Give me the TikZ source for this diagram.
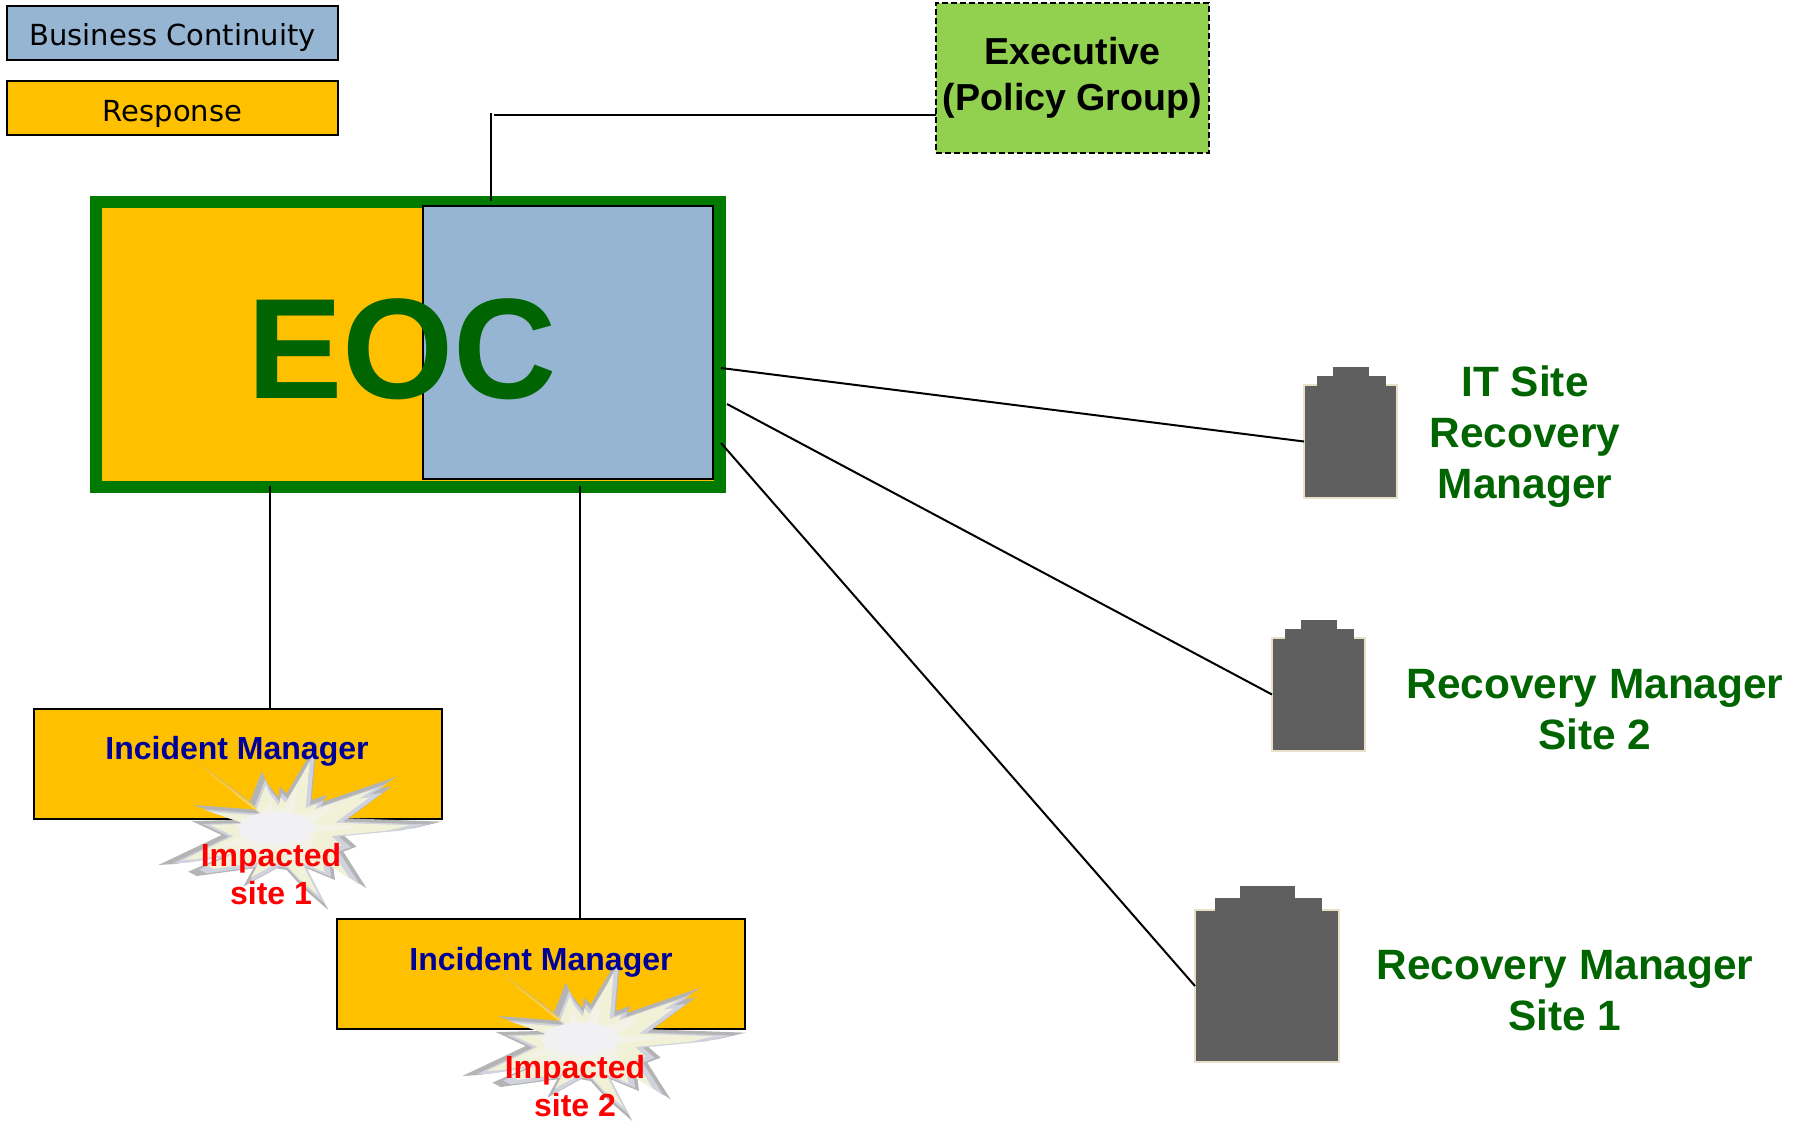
\documentclass[tikz,border=0pt]{standalone}
\usepackage{fontspec}
\setmainfont{Liberation Sans}
\newfontfamily\legendfont{DejaVu Sans}
\definecolor{resp}{HTML}{FFC000}
\definecolor{bc}{HTML}{95B5D2}
\definecolor{execgreen}{HTML}{92D050}
\definecolor{eocborder}{HTML}{007A00}
\definecolor{darkgr}{HTML}{006400}
\definecolor{navyt}{HTML}{000099}
\definecolor{bldg}{HTML}{5F5F5F}
\definecolor{bldgline}{HTML}{EADFC8}
\newcommand{\blastpath}{(190,55) -- (360,185) -- (395,95) -- (412,130) -- (445,172) -- (450,140) -- (470,160) -- (530,60) -- (560,5) -- (545,180) -- (590,165) -- (580,185) -- (800,110) -- (745,145) -- (785,140) -- (655,235) -- (935,245) -- (850,265) -- (640,285) -- (680,320) -- (640,335) -- (710,445) -- (610,380) -- (615,420) -- (530,385) -- (595,510) -- (520,445) -- (470,390) -- (440,385) -- (340,440) -- (370,385) -- (200,408) -- (175,395) -- (280,350) -- (135,372) -- (85,375) -- (275,285) -- (185,243) -- (320,240) -- (190,195) -- (390,210) -- cycle}
\newcommand{\blastlayer}[4]{\begin{scope}[shift={(440+#3,270+#4)},scale=#1,shift={(-440,-270)}]\fill[#2] \blastpath;\end{scope}}
\newcommand{\blastfig}{%
  \fill[blastgray] \blastpath;
  \blastlayer{0.9}{blastblue}{6}{6}
  \blastlayer{0.8}{blastcream}{3}{6}
  \blastlayer{0.5}{blastwhite}{0}{0}
  \fill[blastcore] (440,265) ellipse (115 and 50);
}
\definecolor{blastgray}{HTML}{B4B4B4}
\definecolor{blastblue}{HTML}{D0D3DE}
\definecolor{blastcream}{HTML}{F1F1D8}
\definecolor{blastwhite}{HTML}{F2F2E6}
\definecolor{blastcore}{HTML}{F1F1F4}
\tikzset{
  boxbase/.style={draw=black,line width=2pt,inner sep=0pt,outer sep=0pt,anchor=center,align=center},
  legendbox/.style={boxbase,minimum width=331pt,minimum height=54pt,font=\legendfont\fontsize{29}{32}\selectfont},
  incidentbox/.style={boxbase,fill=resp,minimum width=408pt,minimum height=110pt},
  incidenttext/.style={inner sep=0pt,text=navyt,font=\bfseries\fontsize{32}{38}\selectfont},
  hittext/.style={inner sep=0pt,align=center,text=red,font=\bfseries\fontsize{32}{38}\selectfont},
  sitetext/.style={inner sep=0pt,align=center,text=darkgr,font=\bfseries\fontsize{42.4}{51}\selectfont},
  link/.style={draw=black,line width=2pt},
  bldgbody/.style={draw=bldgline,line width=2pt,fill=bldg,inner sep=0pt,outer sep=0pt,anchor=center},
  bldgtop/.style={fill=bldg}
}
\begin{document}
\begin{tikzpicture}[x=1pt,y=-1pt]
\useasboundingbox (0,0) rectangle (1803,1122);
% legend
\node[legendbox,fill=bc] (legbc) at (172.5,33) {\rule{0pt}{32pt}Business Continuity};
\node[legendbox,fill=resp] (legresp) at (172.5,108) {\rule{0pt}{33pt}Response};
% executive
\node[boxbase,fill=execgreen,dash pattern=on 6pt off 3pt,minimum width=273pt,minimum height=150pt,font=\bfseries\fontsize{37.6}{46}\selectfont] (exec) at (1072.5,78) {Executive\\(Policy Group)};
% EOC
\node[draw=eocborder,line width=12pt,fill=resp,inner sep=0pt,outer sep=0pt,minimum width=624pt,minimum height=285pt] (eoc) at (408,344) {};
\node[boxbase,fill=bc,minimum width=290.5pt,minimum height=273pt] (eocbc) at (567.75,342.5) {};
\node[inner sep=0pt,text=darkgr,font=\bfseries\fontsize{143}{150}\selectfont] (eoclabel) at (402,349) {EOC};
% connection points on the EOC block
\coordinate (eoctop) at (491,201);
\coordinate (elbow) at (491,113);
\coordinate (elbowb) at (494,115);
\coordinate (eocr1) at (721,368);
\coordinate (eocr2) at (727,404);
\coordinate (eocr3) at (721,443);
\coordinate (eocb1) at (270,486);
\coordinate (eocb2) at (579.5,486);
% incident boxes
\node[incidentbox] (inc1) at (238,763.5) {};
\node[incidentbox] (inc2) at (541,974) {};
\coordinate (inc1top) at (270,708);
\coordinate (inc2top) at (579.5,919);
% connectors
\draw[link] (eoctop) -- (elbow);
\draw[link] (elbowb) -- (exec.west |- elbowb);
\draw[link] (eocb1) -- (inc1top);
\draw[link] (eocb2) -- (inc2top);
% bursts
\begin{scope}[shift={(130,740)},scale=0.3333]
\blastfig
\end{scope}
\begin{scope}[shift={(434,951)},scale=0.3333]
\blastfig
\end{scope}
\node[incidenttext] (inc1t) at (237,751) {Incident Manager};
\node[incidenttext] (inc2t) at (541,962) {Incident Manager};
\node[hittext] (hit1) at (271,874) {Impacted\\site 1};
\node[hittext] (hit2) at (575,1086) {Impacted\\site 2};
% buildings
\node[bldgbody,minimum width=93pt,minimum height=113pt] (b1) at (1350.5,441.5) {};
\fill[bldgtop] (1317,376) rectangle (1386,388);
\fill[bldgtop] (1333,367) rectangle (1369,377);
\node[bldgbody,minimum width=93pt,minimum height=113pt] (b2) at (1318.5,694.5) {};
\fill[bldgtop] (1285,629) rectangle (1354,641);
\fill[bldgtop] (1301,620) rectangle (1337,630);
\node[bldgbody,minimum width=144pt,minimum height=152pt] (b3) at (1267,986) {};
\fill[bldgtop] (1215,898) rectangle (1322,913);
\fill[bldgtop] (1240,886) rectangle (1295,899);
\draw[link] (eocr1) -- (b1.west);
\draw[link] (eocr2) -- (b2.west);
\draw[link] (eocr3) -- (b3.west);
% site labels
\node[sitetext] (s1) at (1525,437) {IT Site\\Recovery\\Manager};
\node[sitetext] (s2) at (1595,710) {Recovery Manager\\Site 2};
\node[sitetext] (s3) at (1565,991) {Recovery Manager\\Site 1};
\end{tikzpicture}
\end{document}
